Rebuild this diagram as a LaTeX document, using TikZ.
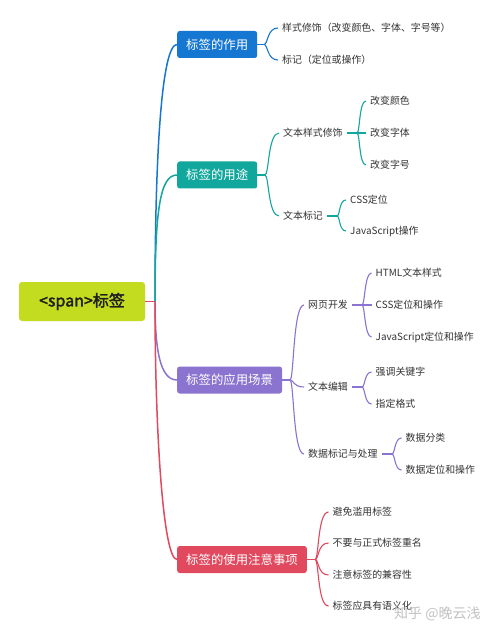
\documentclass[tikz,border=0pt]{standalone}
\usepackage{fontspec}
\setmainfont{Noto Sans CJK SC}[AutoFakeBold=2]
\usetikzlibrary{calc}
\definecolor{cblue}{HTML}{1677D2}
\definecolor{cteal}{HTML}{12A79D}
\definecolor{cpurp}{HTML}{8B74D0}
\definecolor{cred}{HTML}{E1495E}
\definecolor{clime}{HTML}{C4DC20}
\definecolor{ctext}{HTML}{333333}
\begin{document}
\begin{tikzpicture}[x=1pt,y=-1pt,
  root/.style={fill=clime, rounded corners=3pt, minimum width=126pt, minimum height=39pt,
    font=\fontsize{16}{19}\selectfont\bfseries, text=black!88, inner sep=0pt},
  branch/.style={fill=#1, rounded corners=2.5pt, minimum height=27pt, inner xsep=9pt,
    inner ysep=0pt, text=white, font=\fontsize{12.4}{15}\selectfont, anchor=west},
  leaf/.style={anchor=west, inner xsep=4pt, inner ysep=1pt, text=ctext,
    font=\fontsize{9.9}{12}\selectfont},
  trunk/.style={draw=#1, line width=1.5pt},
  brace/.style={draw=#1, line width=1.1pt},
]
\fill[white] (0,0) rectangle (500,636);
\useasboundingbox (0,0) rectangle (500,636);

% root and branches
\node[root] (root) at (82,301.5) {<span>标签};
\node[branch=cblue] (b1) at (177,44.5) {标签的作用};
\node[branch=cteal] (b2) at (177,175) {标签的用途};
\node[branch=cpurp] (b3) at (177,380) {标签的应用场景};
\node[branch=cred]  (b4) at (177,559.5) {标签的使用注意事项};

\coordinate (t) at (155,301.5);
\draw[trunk=cred] (root.east) -- (t);
\draw[trunk=cblue] (t) .. controls (155,150) and (162,44.5) .. (b1.west);
\draw[trunk=cteal] (t) .. controls (155,210) and (160,175) .. (b2.west);
\draw[trunk=cpurp] (t) .. controls (155,350) and (160,380) .. (b3.west);
\draw[trunk=cred]  (t) .. controls (155,430) and (163,559.5) .. (b4.west);

% branch 1
\node[leaf] (l11) at (278,28) {样式修饰（改变颜色、字体、字号等）};
\node[leaf] (l12) at (278,60) {标记（定位或操作）};
\coordinate (j1) at (264,44.5);
\draw[brace=cblue] (b1.east) -- (j1);
\foreach \l in {l11,l12}
  \draw[brace=cblue] (j1) .. controls +(4,0) and +(-11,0) .. (\l.west);

% branch 2
\node[leaf] (s21) at (279,133) {文本样式修饰};
\node[leaf] (s22) at (279,216) {文本标记};
\coordinate (j2) at (265,175);
\draw[brace=cteal] (b2.east) -- (j2);
\foreach \l in {s21,s22}
  \draw[brace=cteal] (j2) .. controls +(4,0) and +(-11,0) .. (\l.west);

\node[leaf] (l211) at (366,101) {改变颜色};
\node[leaf] (l212) at (366,133) {改变字体};
\node[leaf] (l213) at (366,165) {改变字号};
\coordinate (j21) at (357,133);
\draw[brace=cteal] (s21.east) -- (j21);
\foreach \l in {l211,l212,l213}
  \draw[brace=cteal] (j21) .. controls +(3,0) and +(-7,0) .. (\l.west);

\node[leaf] (l221) at (346,200) {CSS定位};
\node[leaf] (l222) at (346,231) {JavaScript操作};
\coordinate (j22) at (337,216);
\draw[brace=cteal] (s22.east) -- (j22);
\foreach \l in {l221,l222}
  \draw[brace=cteal] (j22) .. controls +(3,0) and +(-7,0) .. (\l.west);

% branch 3
\node[leaf] (s31) at (304,305) {网页开发};
\node[leaf] (s32) at (304,387) {文本编辑};
\node[leaf] (s33) at (304,454) {数据标记与处理};
\coordinate (j3) at (290,380);
\draw[brace=cpurp] (b3.east) -- (j3);
\foreach \l in {s31,s32,s33}
  \draw[brace=cpurp] (j3) .. controls +(4,0) and +(-11,0) .. (\l.west);

\node[leaf] (l311) at (371.5,273) {HTML文本样式};
\node[leaf] (l312) at (371.5,305) {CSS定位和操作};
\node[leaf] (l313) at (371.5,337) {JavaScript定位和操作};
\coordinate (j31) at (362,305);
\draw[brace=cpurp] (s31.east) -- (j31);
\foreach \l in {l311,l312,l313}
  \draw[brace=cpurp] (j31) .. controls +(3,0) and +(-7,0) .. (\l.west);

\node[leaf] (l321) at (371.5,372) {强调关键字};
\node[leaf] (l322) at (371.5,404) {指定格式};
\coordinate (j32) at (362,387);
\draw[brace=cpurp] (s32.east) -- (j32);
\foreach \l in {l321,l322}
  \draw[brace=cpurp] (j32) .. controls +(3,0) and +(-7,0) .. (\l.west);

\node[leaf] (l331) at (401.5,438) {数据分类};
\node[leaf] (l332) at (401.5,470) {数据定位和操作};
\coordinate (j33) at (392,454);
\draw[brace=cpurp] (s33.east) -- (j33);
\foreach \l in {l331,l332}
  \draw[brace=cpurp] (j33) .. controls +(3,0) and +(-7,0) .. (\l.west);

% branch 4
\node[leaf] (l41) at (328.5,512) {避免滥用标签};
\node[leaf] (l42) at (328.5,543) {不要与正式标签重名};
\node[leaf] (l43) at (328.5,575) {注意标签的兼容性};
\node[leaf] (l44) at (328.5,606) {标签应具有语义化};
\coordinate (j4) at (315,559.5);
\draw[brace=cred] (b4.east) -- (j4);
\foreach \l in {l41,l42,l43,l44}
  \draw[brace=cred] (j4) .. controls +(4,0) and +(-11,0) .. (\l.west);

% watermark
\node[text=black!24, font=\fontsize{14}{16}\selectfont, anchor=west, inner sep=0pt] (wm) at (394,614) {知乎 @晚云浅};
\end{tikzpicture}
\end{document}
